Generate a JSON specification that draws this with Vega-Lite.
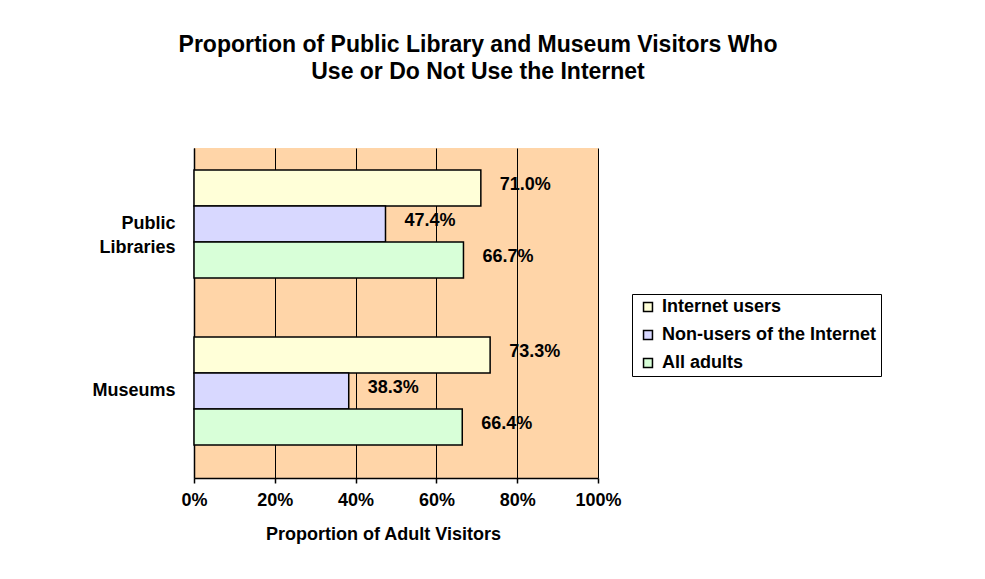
{
  "$schema": "https://vega.github.io/schema/vega-lite/v6.json",
  "autosize": "none",
  "width": 404,
  "height": 330,
  "padding": {"left": 194, "top": 148, "right": 387, "bottom": 101},
  "background": "white",
  "title": {
    "text": ["Proportion of Public Library and Museum Visitors Who", "Use or Do Not Use the Internet"],
    "anchor": "middle",
    "frame": "group",
    "dx": 82,
    "offset": 64,
    "font": "Liberation Sans",
    "fontSize": 23,
    "fontWeight": "bold",
    "lineHeight": 27,
    "color": "black"
  },
  "data": {
    "values": [
      {"venue": "Public Libraries", "group": "Internet users", "value": 0.710},
      {"venue": "Public Libraries", "group": "Non-users of the Internet", "value": 0.474},
      {"venue": "Public Libraries", "group": "All adults", "value": 0.667},
      {"venue": "Museums", "group": "Internet users", "value": 0.733},
      {"venue": "Museums", "group": "Non-users of the Internet", "value": 0.383},
      {"venue": "Museums", "group": "All adults", "value": 0.664}
    ]
  },
  "encoding": {
    "y": {
      "field": "venue",
      "type": "nominal",
      "sort": ["Public Libraries", "Museums"],
      "scale": {"paddingInner": 0.353, "paddingOuter": 0.165, "align": 0.4},
      "axis": {
        "title": null,
        "ticks": false,
        "domainColor": "black",
        "domainWidth": 1.5,
        "labelFont": "Liberation Sans",
        "labelFontWeight": "bold",
        "labelFontSize": 18,
        "labelColor": "black",
        "labelPadding": 19,
        "labelLineHeight": 24,
        "labelExpr": "datum.label == 'Public Libraries' ? ['Public', 'Libraries'] : datum.label"
      }
    },
    "yOffset": {
      "field": "group",
      "type": "nominal",
      "sort": ["Internet users", "Non-users of the Internet", "All adults"],
      "scale": {"paddingInner": 0, "paddingOuter": 0}
    },
    "x": {
      "field": "value",
      "type": "quantitative",
      "scale": {"domain": [0, 1], "nice": false},
      "axis": {
        "title": "Proportion of Adult Visitors",
        "format": ".0%",
        "values": [0, 0.2, 0.4, 0.6, 0.8, 1],
        "grid": true,
        "gridColor": "black",
        "gridOpacity": 1,
        "domainColor": "black",
        "domainWidth": 1.5,
        "tickColor": "black",
        "tickWidth": 1.5,
        "tickSize": 5,
        "labelFlush": false,
        "labelFont": "Liberation Sans",
        "labelFontWeight": "bold",
        "labelFontSize": 18,
        "labelColor": "black",
        "labelPadding": 8,
        "titleFont": "Liberation Sans",
        "titleFontWeight": "bold",
        "titleFontSize": 18,
        "titleColor": "black",
        "titlePadding": 16,
        "titleX": 189,
        "titleAlign": "center"
      }
    }
  },
  "layer": [
    {
      "mark": {"type": "bar", "stroke": "black", "strokeWidth": 1.5, "cornerRadius": 0},
      "encoding": {
        "color": {
          "field": "group",
          "type": "nominal",
          "sort": ["Internet users", "Non-users of the Internet", "All adults"],
          "scale": {
            "domain": ["Internet users", "Non-users of the Internet", "All adults"],
            "range": ["#FFFFD8", "#D8D8FF", "#D8FFD8"]
          },
          "legend": {
            "title": null,
            "orient": "none",
            "legendX": 438,
            "legendY": 146,
            "direction": "vertical",
            "fillColor": "white",
            "strokeColor": "black",
            "padding": 4,
            "symbolType": "square",
            "symbolSize": 80,
            "symbolStrokeColor": "black",
            "symbolStrokeWidth": 1.5,
            "symbolOffset": 3,
            "labelOffset": 5,
            "labelFont": "Liberation Sans",
            "labelFontWeight": "bold",
            "labelFontSize": 18,
            "labelColor": "black",
            "rowPadding": 10,
            "labelLimit": 300
          }
        }
      }
    },
    {
      "mark": {"type": "text", "align": "left", "dx": 19, "dy": -3, "font": "Liberation Sans", "fontWeight": "bold", "fontSize": 18, "color": "black"},
      "encoding": {
        "text": {"field": "value", "type": "quantitative", "format": ".1%"}
      }
    }
  ],
  "config": {
    "view": {"fill": "#FFD5A8", "stroke": null}
  }
}
